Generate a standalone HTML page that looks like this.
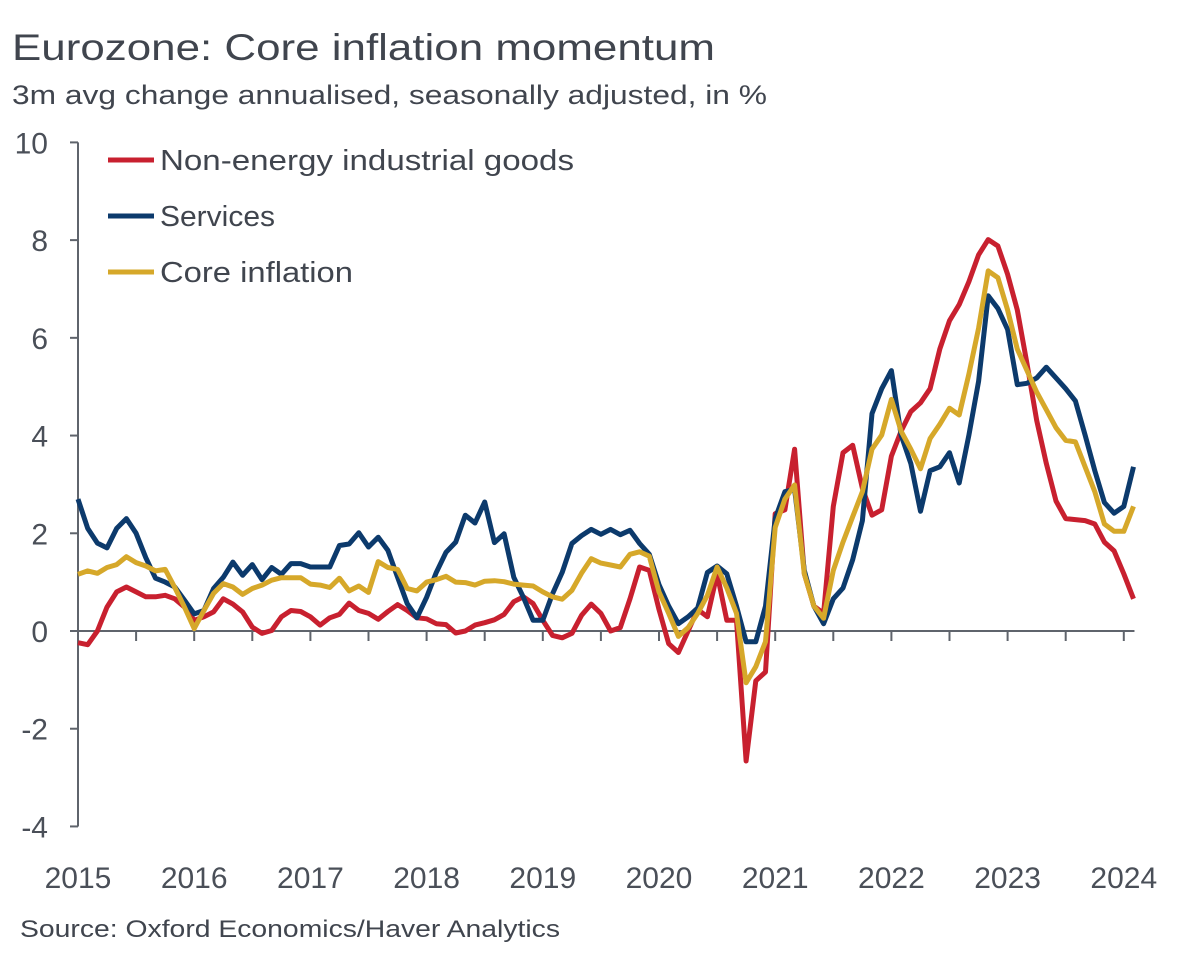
<!DOCTYPE html>
<html><head><meta charset="utf-8"><style>
html,body{margin:0;padding:0;background:#fff;}
svg{display:block;font-family:"Liberation Sans",sans-serif;}
</style></head><body>
<svg id="chart" width="1200" height="960" viewBox="0 0 1200 960">
<text x="12" y="60" font-size="37" fill="#40454e" textLength="703" lengthAdjust="spacingAndGlyphs">Eurozone: Core inflation momentum</text>
<text x="12" y="104" font-size="27" fill="#40454e" textLength="755" lengthAdjust="spacingAndGlyphs">3m avg change annualised, seasonally adjusted, in %</text>
<text x="20" y="937" font-size="24" fill="#40454e" textLength="540" lengthAdjust="spacingAndGlyphs">Source: Oxford Economics/Haver Analytics</text>
<g id="axes"></g>
<g id="series"></g>
<g id="legend"></g>
</svg>
<script>
const yTicks = [10, 8, 6, 4, 2, 0, -2, -4];
const xYears = [2015, 2016, 2017, 2018, 2019, 2020, 2021, 2022, 2023, 2024];
const seriesNames = ["Non-energy industrial goods", "Services", "Core inflation"];
const goods = [-0.24,-0.28,0,0.49,0.8,0.9,0.8,0.7,0.7,0.73,0.66,0.49,0.22,0.29,0.39,0.66,0.55,0.39,0.08,-0.05,0.01,0.29,0.42,0.4,0.29,0.12,0.27,0.34,0.57,0.42,0.36,0.24,0.4,0.54,0.42,0.27,0.25,0.15,0.13,-0.04,0,0.12,0.17,0.23,0.34,0.6,0.7,0.56,0.22,-0.09,-0.14,-0.05,0.32,0.55,0.36,0,0.07,0.66,1.31,1.24,0.44,-0.26,-0.44,0,0.44,0.29,1.17,0.22,0.22,-2.66,-1.02,-0.84,2.4,2.48,3.72,1.17,0.51,0.36,2.55,3.65,3.8,2.92,2.37,2.48,3.58,4.09,4.49,4.67,4.96,5.77,6.35,6.68,7.15,7.7,8.01,7.88,7.3,6.57,5.47,4.31,3.43,2.66,2.3,2.28,2.26,2.19,1.82,1.64,1.17,0.66];
const services = [2.7,2.1,1.8,1.7,2.1,2.3,2.0,1.5,1.08,1.0,0.9,0.63,0.35,0.42,0.87,1.1,1.41,1.14,1.36,1.05,1.3,1.16,1.38,1.38,1.31,1.31,1.31,1.75,1.78,2.01,1.72,1.92,1.65,1.1,0.56,0.27,0.69,1.2,1.61,1.82,2.37,2.21,2.64,1.81,1.99,1.1,0.69,0.22,0.22,0.76,1.2,1.79,1.95,2.08,1.98,2.08,1.97,2.06,1.79,1.57,0.95,0.51,0.15,0.29,0.47,1.2,1.33,1.17,0.51,-0.22,-0.22,0.51,2.3,2.85,2.9,1.24,0.51,0.15,0.66,0.88,1.46,2.26,4.45,4.96,5.33,4.01,3.43,2.45,3.28,3.36,3.65,3.03,4.01,5.11,6.86,6.6,6.17,5.04,5.07,5.18,5.4,5.18,4.96,4.71,4.01,3.28,2.63,2.41,2.55,3.36];
const core = [1.16,1.23,1.18,1.3,1.36,1.52,1.4,1.33,1.23,1.26,0.89,0.49,0.05,0.42,0.77,0.97,0.9,0.75,0.87,0.94,1.04,1.09,1.09,1.09,0.96,0.94,0.89,1.08,0.82,0.92,0.79,1.42,1.3,1.26,0.87,0.82,1.0,1.05,1.12,1.0,0.99,0.94,1.02,1.03,1.01,0.96,0.94,0.92,0.8,0.7,0.65,0.83,1.18,1.48,1.39,1.35,1.31,1.57,1.62,1.53,0.8,0.36,-0.11,0.07,0.36,0.73,1.31,0.88,0.36,-1.06,-0.73,-0.22,2.12,2.7,2.99,1.17,0.51,0.26,1.24,1.82,2.34,2.85,3.72,4.01,4.74,4.09,3.72,3.32,3.94,4.23,4.56,4.42,5.26,6.2,7.37,7.23,6.57,5.77,5.33,4.89,4.53,4.16,3.9,3.87,3.36,2.85,2.19,2.04,2.04,2.55];

const NS = "http://www.w3.org/2000/svg";
const X0 = 78, MONTH = 116.2 / 12, Y0 = 631, UNIT = 48.86;
function xScale(i){ return X0 + i * MONTH; }
function yScale(v){ return Y0 - v * UNIT; }
function mk(tag, attrs, parent){
  const e = document.createElementNS(NS, tag);
  for (const k in attrs) e.setAttribute(k, attrs[k]);
  parent.appendChild(e); return e;
}
const axes = document.getElementById("axes");
const axisCol = "#5f646c";
const nMonths = goods.length;
const xEnd = xScale(nMonths - 1) + 1;
const yAx = mk("line", {x1:X0, y1:yScale(10), x2:X0, y2:yScale(-4), stroke:axisCol, "stroke-width":2}, axes);


const xAx = mk("line", {x1:X0, y1:Y0, x2:xEnd, y2:Y0, stroke:axisCol, "stroke-width":2}, axes);


yTicks.forEach(v => {
  const y = yScale(v);
  mk("line", {x1:X0-8, y1:y, x2:X0, y2:y, stroke:axisCol, "stroke-width":2}, axes);
  const t = mk("text", {x:48, y:y+11, "text-anchor":"end", "font-size":30, fill:"#4a4f58"}, axes);
  t.textContent = String(v);
  
  
});
for (let m = 6; m < nMonths; m += 6) {
  const x = xScale(m);
  mk("line", {x1:x, y1:Y0, x2:x, y2:Y0+10, stroke:axisCol, "stroke-width":2}, axes);
}
xYears.forEach((yr, k) => {
  const x = xScale(k * 12);
  const t = mk("text", {x:x, y:888, "text-anchor":"middle", "font-size":30, fill:"#4a4f58"}, axes);
  t.textContent = String(yr);
  
  
});
const series = document.getElementById("series");
const cols = ["#c8202f", "#0c3a6c", "#d6a82a"];
const names = ["line-goods", "line-services", "line-core"];
[goods, services, core].forEach((arr, s) => {
  const d = arr.map((v, i) => (i ? "L" : "M") + xScale(i).toFixed(1) + " " + yScale(v).toFixed(1)).join(" ");
  const p = mk("path", {d:d, fill:"none", stroke:cols[s], "stroke-width":5, "stroke-linejoin":"round"}, series);
  
  
});
series.appendChild(series.children[1]); series.appendChild(series.children[1]);
const legend = document.getElementById("legend");
const legLen = [414, 115, 193];
seriesNames.forEach((n, s) => {
  const y = 160 + s * 56;
  const g = mk("g", {}, legend);
  
  
  mk("line", {x1:108, y1:y, x2:154, y2:y, stroke:cols[s], "stroke-width":5}, g);
  const t = mk("text", {x:160, y:y+10, "font-size":29, fill:"#40454e", textLength:legLen[s], lengthAdjust:"spacingAndGlyphs"}, g);
  t.textContent = n;
});
</script>
</body></html>
